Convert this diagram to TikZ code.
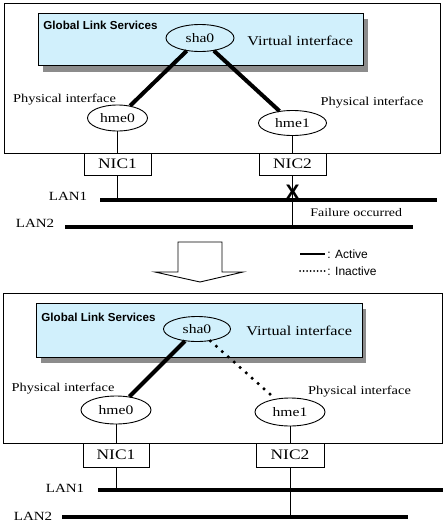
\documentclass[tikz,border=0pt]{standalone}
\usepackage{fontspec}
\usetikzlibrary{shapes.geometric,positioning}
\newfontfamily\mincho[FakeStretch=1.2]{Liberation Serif}
\newfontfamily\gothic{Liberation Sans}
\colorlet{GLSCyan}{cyan!18}
\colorlet{GLSShadow}{black!45}

\begin{document}
\begin{tikzpicture}[x=1pt,y=-1pt,line width=0.9pt,
    ifc/.style={ellipse,draw,inner sep=0pt,font=\mincho\fontsize{13}{13}\selectfont},
    nic/.style={draw,fill=white,minimum width=67pt,minimum height=22pt,inner sep=0pt,font=\mincho\fontsize{14.5}{14.5}\selectfont},
    lbl/.style={inner sep=0pt,font=\mincho\fontsize{12}{12}\selectfont},
    vlbl/.style={inner sep=0pt,anchor=west,font=\mincho\fontsize{13.5}{13.5}\selectfont},
    gls/.style={inner sep=0pt,anchor=west,font=\gothic\bfseries\fontsize{11.6}{11.6}\selectfont},
    lanlbl/.style={inner sep=0pt,font=\mincho\fontsize{12.5}{12.5}\selectfont},
    active/.style={line width=4pt},
    inactive/.style={line width=3.5pt,line cap=round,dash pattern=on 0pt off 8pt},
    lan/.style={line width=4pt},
    legend/.style={inner sep=0pt,anchor=west,font=\gothic\fontsize{12}{12}\selectfont}]
    \useasboundingbox (0,0) rectangle (445,530);

%   before the failure
    \draw (4,3) rectangle (440,153);
    \fill[GLSShadow] (43,19) rectangle (368,72);
    \filldraw[fill=GLSCyan] (38,13) rectangle (363,65);
    \node[gls] (glsa) at (43,25) {Global Link Services};
    \node[ifc,minimum width=68pt,minimum height=27pt] (sha0a) at (200,38) {sha0};
    \node[vlbl] (virta) at (247,41) {Virtual interface};
    \node[ifc,minimum width=60pt,minimum height=26pt] (hme0a) at (117.5,118) {hme0};
    \node[ifc,minimum width=68pt,minimum height=25pt] (hme1a) at (292.5,123) {hme1};
    \node[lbl] (phy0a) at (64.5,100) {Physical interface};
    \node[lbl] (phy1a) at (372,102.5) {Physical interface};
    \node[nic] (nic1a) at (117.5,164) {NIC1};
    \node[nic] (nic2a) at (292.5,164) {NIC2};
    \coordinate (lan1a) at (100,200);
    \coordinate (lan1aend) at (437,200);
    \coordinate (lan2a) at (65,227);
    \coordinate (lan2aend) at (413,227);
    \node[lanlbl] (lan1albl) at (68,196) {LAN1};
    \node[lanlbl] (lan2albl) at (35,223) {LAN2};
    \draw[active] (sha0a) -- (hme0a);
    \draw[active] (sha0a) -- (hme1a);
    \draw (hme0a) -- (nic1a);
    \draw (hme1a) -- (nic2a);
    \draw (nic1a) -- (nic1a |- lan1a);
    \draw (nic2a) -- (nic2a |- lan2a);
    \draw[lan] (lan1a) -- (lan1aend);
    \draw[lan] (lan2a) -- (lan2aend);
    \node[inner sep=0pt,font=\gothic\bfseries\fontsize{21}{21}\selectfont] (fail) at (292.5,192) {X};
    \node[lbl,anchor=west,font=\mincho\fontsize{11.6}{11.6}\selectfont] (failtxt) at (310,213) {Failure occurred};

%   switching arrow and legend
    \filldraw[fill=white] (178,242) -- (222,242) -- (222,272) -- (243,272) -- (200,282) -- (155,272) -- (178,272) -- cycle;
    \coordinate (acts) at (300,254);
    \coordinate (acte) at (325,254);
    \coordinate (inas) at (300,271);
    \coordinate (inae) at (325,271);
    \draw[line width=2.2pt] (acts) -- (acte);
    \draw[line width=2pt,line cap=round,dash pattern=on 0pt off 3.5pt] (inas) -- (inae);
    \node[legend] (actlbl) at (327,254) {: Active};
    \node[legend] (inalbl) at (327,271) {: Inactive};

%   after the failure
    \draw (3,293) rectangle (442,443);
    \fill[GLSShadow] (41,309) rectangle (366,363);
    \filldraw[fill=GLSCyan] (36,303) rectangle (362,357);
    \node[gls] (glsb) at (41,317.5) {Global Link Services};
    \node[ifc,minimum width=67pt,minimum height=25pt] (sha0b) at (197,329) {sha0};
    \node[vlbl] (virtb) at (246,330.5) {Virtual interface};
    \node[ifc,minimum width=70pt,minimum height=28pt] (hme0b) at (116,410) {hme0};
    \node[ifc,minimum width=70pt,minimum height=28pt] (hme1b) at (290,412) {hme1};
    \node[lbl] (phy0b) at (63,389) {Physical interface};
    \node[lbl] (phy1b) at (359.5,392) {Physical interface};
    \node[nic,minimum width=66pt,minimum height=24pt] (nic1b) at (116,455) {NIC1};
    \node[nic,minimum width=68pt,minimum height=24pt] (nic2b) at (290,455) {NIC2};
    \coordinate (lan1b) at (98,490);
    \coordinate (lan1bend) at (443,490);
    \coordinate (lan2b) at (62,517);
    \coordinate (lan2bend) at (408,517);
    \node[lanlbl] (lan1blbl) at (65,488.5) {LAN1};
    \node[lanlbl] (lan2blbl) at (33,516.5) {LAN2};
    \draw[active] (sha0b) -- (hme0b);
    \draw[inactive] (sha0b) -- (hme1b);
    \draw (hme0b) -- (nic1b);
    \draw (hme1b) -- (nic2b);
    \draw (nic1b) -- (nic1b |- lan1b);
    \draw (nic2b) -- (nic2b |- lan2b);
    \draw[lan] (lan1b) -- (lan1bend);
    \draw[lan] (lan2b) -- (lan2bend);
\end{tikzpicture}
\end{document}
